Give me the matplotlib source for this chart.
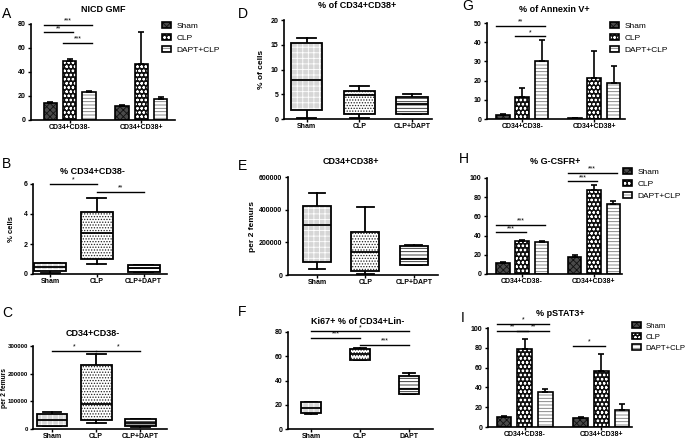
import matplotlib
matplotlib.use("Agg")
import matplotlib.pyplot as plt
from matplotlib.patches import PathPatch
from matplotlib.legend_handler import HandlerTuple
from matplotlib.ticker import FormatStrFormatter

plt.rcParams['font.family'] = ['Liberation Sans', 'DejaVu Sans']
plt.rcParams['hatch.linewidth'] = 0.6

W, H = 685, 440

#-- data: grouped bar panels (values per series, per group)
groups = ['CD34+CD38-', 'CD34+CD38+']
series = ['Sham', 'CLP', 'DAPT+CLP']

nicd_mean = [[14, 12], [49, 47], [23.5, 17.5]]
nicd_err = [[1.2, 0.8], [2.0, 26.5], [0.7, 1.5]]
nicd_sig = [(0, 0, 2, 79, '***'), (0, 0, 1, 73, '**'), (0, 1, 2, 64, '***')]

annexin_mean = [[2.2, 0.5], [11.2, 21.5], [30, 18.5]]
annexin_err = [[0.3, 0.1], [5.2, 14], [11.3, 9.1]]
annexin_sig = [(0, 0, 2, 48.6, '**'), (0, 1, 2, 43, '*')]

gcsfr_mean = [[11, 18], [34.5, 87], [33.5, 72.5]]
gcsfr_err = [[1.5, 1.5], [0.5, 6], [0.5, 4]]
gcsfr_sig = [(0, 0, 2, 51.4, '***'), (0, 0, 1, 43.4, '***'),
             (1, 0, 2, 105, '***'), (1, 0, 1, 96.5, '***')]

pstat_mean = [[10.5, 9.5], [79, 57], [35, 17]]
pstat_err = [[1.0, 0.5], [10, 17], [3, 6]]
pstat_sig = [(0, 0, 2, 104, '*'), (0, 0, 1, 97, '**'), (0, 1, 2, 97, '**'),
             (1, 0, 1, 82, '*')]

#-- data: box panels (whislo, q1, median, q3, whishi)
pct_neg_cats = ['Sham', 'CLP', 'CLP+DAPT']
pct_neg_stats = [(0.05, 0.18, 0.45, 0.72, 0.74), (0.69, 1.0, 2.73, 4.15, 5.1),
                 (0.14, 0.15, 0.38, 0.6, 0.62)]
pct_neg_sig = [(0, 1, 6.0, '*'), (1, 2, 5.45, '**')]

abs_neg_cats = ['Sham', 'CLP', 'CLP+DAPT']
abs_neg_stats = [(11000, 12000, 31000, 55000, 60000),
                 (21500, 33500, 89600, 233000, 272500),
                 (9000, 10000, 22000, 35000, 37000)]
abs_neg_sig = [(0, 1, 283000, '*'), (1, 2, 283000, '*')]

pct_pos_cats = ['Sham', 'CLP', 'CLP+DAPT']
pct_pos_stats = [(0.27, 1.9, 7.8, 15.4, 16.3), (0.27, 1.1, 4.8, 5.7, 6.6),
                 (1.0, 1.08, 3.0, 4.5, 5.0)]

abs_pos_cats = ['Sham', 'CLP', 'CLP+DAPT']
abs_pos_stats = [(35000, 77000, 305000, 423000, 502000),
                 (4000, 24000, 142000, 264000, 417000),
                 (60000, 62000, 100000, 180000, 182000)]

ki67_cats = ['Sham', 'CLP', 'DAPT']
ki67_stats = [(12, 13, 17, 21.9, 22.5), (57, 57.3, 62, 66.3, 66.8),
              (28.5, 28.7, 33, 43.8, 46.3)]
ki67_sig = [(0, 2, 80.5, '*'), (0, 1, 75, '***'), (1, 2, 69.6, '***')]

#-- styling
BAR_STEP, BAR_W = 0.27, 0.19
BAR_STYLES = [dict(face='#4a4a4a', hc='#111111', hatch='xxxxx'),
              dict(face='#111111', hc='white', hatch='oooo'),
              dict(face='white', hc='#777777', hatch='-----')]
BOX_STYLES = [dict(face='#d6d6d6', hc='white', hatch='+++'),
              dict(face='white', hc='#222222', hatch='......'),
              dict(face='white', hc='#222222', hatch='-----')]
FS_TICK = 5


def px_axes(fig, l, t, r, b):
    """Axes from pixel box (left, top-of-ylim, right, zero line)."""
    return fig.add_axes([l / W, 1 - b / H, (r - l) / W, (b - t) / H])


def style_axes(ax, ymax, yticks, xlim):
    ax.set_ylim(0, ymax)
    ax.set_yticks(yticks)
    ax.set_xlim(*xlim)
    for s in ['top', 'right']:
        ax.spines[s].set_visible(False)
    for s in ['left', 'bottom']:
        ax.spines[s].set_linewidth(1.2)
    ax.tick_params(length=2.5, width=1, labelsize=FS_TICK, pad=1.5)
    ax.tick_params(axis='x', length=2, pad=0.8)
    for lab in ax.get_xticklabels() + ax.get_yticklabels():
        lab.set_fontweight('bold')


def sig_line(ax, x1, x2, y, label):
    ax.plot([x1, x2], [y, y], color='black', lw=1, clip_on=False, zorder=5)
    ax.annotate(label, ((x1 + x2) / 2, y), xytext=(0, 0.3), textcoords='offset points',
                ha='center', va='bottom', fontsize=5, annotation_clip=False)


def bar_panel(ax, means, errs, sigs, ymax, yticks, xlim):
    handles = []
    for k, (m, e) in enumerate(zip(means, errs)):
        x = [g + (k - 1) * BAR_STEP for g in range(len(groups))]
        sty = BAR_STYLES[k]
        hb = ax.bar(x, m, BAR_W, color=sty['face'], edgecolor=sty['hc'],
                    hatch=sty['hatch'], lw=0, zorder=2)
        bb = ax.bar(x, m, BAR_W, fill=False, edgecolor='black', lw=1.2, zorder=3)
        ax.errorbar(x, m, yerr=[[0] * len(m), e], fmt='none', ecolor='black',
                    elinewidth=1.2, capsize=2.5, capthick=1.2, zorder=4)
        handles.append((hb[0], bb[0]))
    ax.set_xticks(range(len(groups)), groups)
    style_axes(ax, ymax, yticks, xlim)
    for g, i, j, y, lab in sigs:
        x1 = g + (i - 1) * BAR_STEP - BAR_W / 2
        x2 = g + (j - 1) * BAR_STEP + BAR_W / 4
        sig_line(ax, x1, x2, y, lab)
    return handles


def box_panel(ax, cats, stats, sigs, ymax, yticks, xlim, width):
    pos = list(range(1, len(cats) + 1))
    bstats = [dict(whislo=s[0], q1=s[1], med=s[2], q3=s[3], whishi=s[4], label=c)
              for s, c in zip(stats, cats)]
    lp = dict(lw=1.3, color='black')
    res = ax.bxp(bstats, positions=pos, widths=width, patch_artist=True,
                 showfliers=False, boxprops=dict(lw=1.3, edgecolor='black'),
                 medianprops=lp, whiskerprops=lp, capprops=lp,
                 capwidths=width * 0.6)
    for box, sty in zip(res['boxes'], BOX_STYLES):
        box.set_facecolor('none')
        box.set_zorder(3)
        ax.add_patch(PathPatch(box.get_path(), facecolor=sty['face'],
                               edgecolor=sty['hc'], hatch=sty['hatch'], lw=0, zorder=2))
    style_axes(ax, ymax, yticks, xlim)
    for i, j, y, lab in sigs:
        sig_line(ax, pos[i], pos[j], y, lab)


def add_legend(fig, handles, x, y, fs=6):
    fig.legend(handles, series, loc='upper left', bbox_to_anchor=(x / W, 1 - y / H),
               frameon=False, fontsize=fs, handlelength=1.1, handleheight=0.8,
               handletextpad=0.6, labelspacing=0.45, borderpad=0, borderaxespad=0,
               handler_map={tuple: HandlerTuple(ndivide=1, pad=0)})


def title(fig, x, y, text):
    fig.text(x / W, 1 - y / H, text, ha='center', va='center', fontsize=6.5,
             fontweight='bold')


def letter(fig, x, y, text):
    fig.text(x / W, 1 - y / H, text, ha='left', va='center', fontsize=10)


fig = plt.figure(figsize=(W / 100, H / 100), dpi=100)

# A
ax = px_axes(fig, 31, 24, 175, 120)
h = bar_panel(ax, nicd_mean, nicd_err, nicd_sig, 80, [0, 20, 40, 60, 80], (-0.54, 1.47))
add_legend(fig, h, 162, 22)
title(fig, 103, 10, 'NICD GMF')
letter(fig, 2, 14, 'A')

# B
ax = px_axes(fig, 33, 184, 167, 274)
box_panel(ax, pct_neg_cats, pct_neg_stats, pct_neg_sig, 6, [0, 2, 4, 6], (0.63, 3.5), 0.68)
ax.set_ylabel('% cells', fontsize=5.5, fontweight='bold', labelpad=6)
title(fig, 92, 171, '% CD34+CD38-')
letter(fig, 2, 164, 'B')

# C
ax = px_axes(fig, 33, 346, 167, 429)
box_panel(ax, abs_neg_cats, abs_neg_stats, abs_neg_sig, 300000,
          [0, 100000, 200000, 300000], (0.57, 3.6), 0.7)
ax.yaxis.set_major_formatter(FormatStrFormatter('%d'))
ax.tick_params(axis='y', labelsize=4.4, pad=1)
for lab in ax.get_yticklabels():
    lab.set_fontweight('bold')
ax.set_ylabel('per 2 femurs', fontsize=4.8, fontweight='bold')
ax.yaxis.set_label_coords(-0.19, 0.5)
title(fig, 93, 334, 'CD34+CD38-')
letter(fig, 2, 313, 'C')

# D
ax = px_axes(fig, 284, 20, 432, 119)
box_panel(ax, pct_pos_cats, pct_pos_stats, [], 20, [0, 5, 10, 15, 20], (0.57, 3.38), 0.6)
ax.set_ylabel('% of cells', fontsize=6, fontweight='bold', labelpad=4)
title(fig, 357, 6, '% of CD34+CD38+')
letter(fig, 238, 14, 'D')

# E
ax = px_axes(fig, 288, 177, 438, 275)
box_panel(ax, abs_pos_cats, abs_pos_stats, [], 600000, [0, 200000, 400000, 600000],
          (0.4, 3.5), 0.58)
ax.yaxis.set_major_formatter(FormatStrFormatter('%d'))
for lab in ax.get_yticklabels():
    lab.set_fontweight('bold')
ax.set_ylabel('per 2 femurs', fontsize=6, fontweight='bold', labelpad=2)
title(fig, 351, 161, 'CD34+CD38+')
letter(fig, 238, 166, 'E')

# F
ax = px_axes(fig, 288, 332, 433, 429)
box_panel(ax, ki67_cats, ki67_stats, ki67_sig, 80, [0, 20, 40, 60, 80], (0.53, 3.49), 0.42)
title(fig, 358, 321, 'Ki67+ % of CD34+Lin-')
letter(fig, 238, 312, 'F')

# G
ax = px_axes(fig, 487, 23, 625, 119)
h = bar_panel(ax, annexin_mean, annexin_err, annexin_sig, 50, [0, 10, 20, 30, 40, 50],
              (-0.49, 1.43))
add_legend(fig, h, 610, 22)
title(fig, 554, 10, '% of Annexin V+')
letter(fig, 462, 6, 'G')

# H
ax = px_axes(fig, 487, 178, 622, 274)
h = bar_panel(ax, gcsfr_mean, gcsfr_err, gcsfr_sig, 100, [0, 20, 40, 60, 80, 100],
              (-0.49, 1.39))
add_legend(fig, h, 623, 168)
title(fig, 555, 162, '% G-CSFR+')
letter(fig, 459, 159, 'H')

# I
ax = px_axes(fig, 488, 328, 632, 427)
h = bar_panel(ax, pstat_mean, pstat_err, pstat_sig, 100, [0, 20, 40, 60, 80, 100],
              (-0.48, 1.4))
add_legend(fig, h, 632, 322, fs=5.6)
title(fig, 560, 313, '% pSTAT3+')
letter(fig, 461, 318, 'I')

fig.savefig('out.png', dpi=100)
